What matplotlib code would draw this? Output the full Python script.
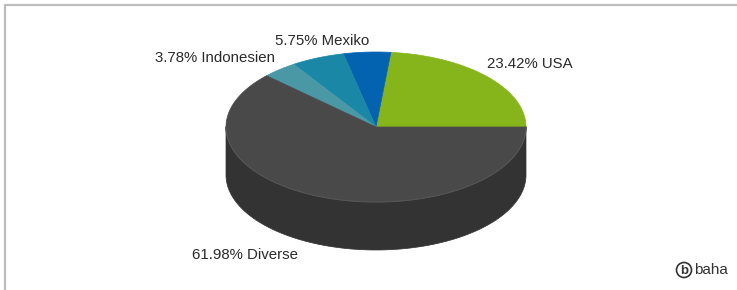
import matplotlib
matplotlib.use("Agg")
import matplotlib.pyplot as plt
import numpy as np
from matplotlib.patches import Polygon, Circle

# slice data, counterclockwise from 3 o'clock
labels = ["23.42% USA", "", "5.75% Mexiko", "3.78% Indonesien", "61.98% Diverse"]
values = [23.42, 5.07, 5.75, 3.78, 61.98]
top_colors = ["#86b51b", "#0463b0", "#1b87a6", "#4a97a6", "#494949"]
side_colors = ["#5f8213", "#03457c", "#136076", "#356c77", "#333333"]

# label anchor points (pixel coords, left edge / vertical centre)
label_pos = [(487, 64), None, (275, 41), (155, 58), (192, 255)]

W, H = 737, 290
cx, cy, rx, ry, depth = 376, 127, 150, 75, 48

plt.rcParams["font.family"] = ["Liberation Sans", "DejaVu Sans"]

fig = plt.figure(figsize=(W / 100, H / 100), dpi=100)
ax = fig.add_axes([0, 0, 1, 1])
ax.set_xlim(0, W)
ax.set_ylim(H, 0)
ax.axis("off")

# frame on top / left
ax.plot([5, 5, W], [H, 4.5, 4.5], color="#bdbdbd", lw=1.6, solid_capstyle="butt")


def pt(t, dy=0.0):
    return cx + rx * np.cos(t), cy - ry * np.sin(t) + dy


edges = np.concatenate([[0], np.cumsum(values)]) / sum(values) * 2 * np.pi

# side faces (front half only: angles between pi and 2pi)
for a0, a1, c in zip(edges[:-1], edges[1:], side_colors):
    lo, hi = max(a0, np.pi), min(a1, 2 * np.pi)
    if hi <= lo:
        continue
    t = np.linspace(lo, hi, 200)
    x, y = pt(t)
    xb, yb = pt(t[::-1], depth)
    ax.add_patch(Polygon(np.column_stack([np.r_[x, xb], np.r_[y, yb]]),
                         closed=True, fc=c, ec=c, lw=0.5))

# top faces
for a0, a1, c in zip(edges[:-1], edges[1:], top_colors):
    t = np.linspace(a0, a1, 200)
    x, y = pt(t)
    ax.add_patch(Polygon(np.column_stack([np.r_[cx, x], np.r_[cy, y]]),
                         closed=True, fc=c, ec=c, lw=0.5))

# faint rim on the front edge of the top face
t = np.linspace(np.pi, 2 * np.pi, 200)
x, y = pt(t)
ax.plot(x, y, color="#555555", lw=0.8)

for lab, pos in zip(labels, label_pos):
    if not lab:
        continue
    ax.text(pos[0], pos[1], lab, fontsize=10.8, color="#2a2a2a",
            ha="left", va="center")

# logo
ax.add_patch(Circle((684, 270), 7.5, fc="none", ec="#333333", lw=1.2))
ax.text(684, 270.5, "b", fontsize=9.5, fontweight="bold", color="#333333",
        ha="center", va="center")
ax.text(694, 270, "baha", fontsize=11, color="#333333", ha="left", va="center")

fig.savefig("out.png", dpi=100)
